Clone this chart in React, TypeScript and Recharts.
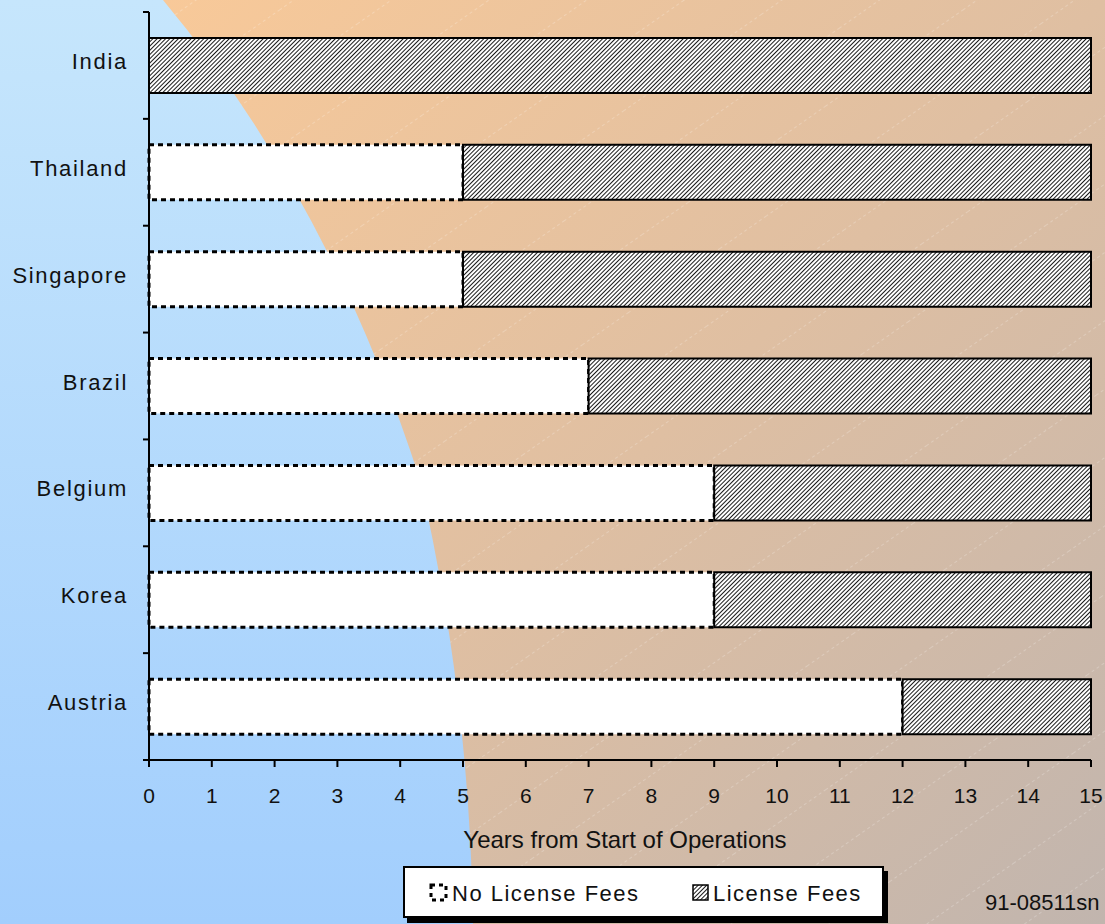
import React from 'react';
import { BarChart, Bar, XAxis, YAxis } from 'recharts';

const countries = ['India', 'Thailand', 'Singapore', 'Brazil', 'Belgium', 'Korea', 'Austria'];
const noLicenseYears = [0, 5, 5, 7, 9, 9, 12];
const licenseYears = [15, 10, 10, 8, 6, 6, 3];
const yearTicks = [0, 1, 2, 3, 4, 5, 6, 7, 8, 9, 10, 11, 12, 13, 14, 15];

const chartData = countries.map((name, i) => ({
  name,
  noFees: noLicenseYears[i],
  fees: licenseYears[i],
}));

const FONT = '"Liberation Sans", Arial, sans-serif';
const PLOT_TOP = 12;
const PLOT_BOTTOM = 760;
const AXIS_X = 149;
const BAND = (PLOT_BOTTOM - PLOT_TOP) / countries.length;

// Label at the band centre, tick marks at the band edges
function CountryTick(props: any) {
  const { x, y, payload, index } = props;
  const half = BAND / 2;
  return (
    <g>
      <text
        x={x}
        y={y - 4}
        textAnchor="end"
        dominantBaseline="central"
        fontFamily={FONT}
        fontSize={22}
        letterSpacing={1.7}
        fill="#111"
      >
        {payload.value}
      </text>
      <line x1={AXIS_X - 6} x2={AXIS_X} y1={y - half} y2={y - half} stroke="#000" strokeWidth={2} />
      {index === countries.length - 1 && (
        <line x1={AXIS_X - 6} x2={AXIS_X} y1={y + half} y2={y + half} stroke="#000" strokeWidth={2} />
      )}
    </g>
  );
}

function Background() {
  return (
    <svg width={1105} height={924} style={{ position: 'absolute', left: 0, top: 0 }}>
      <defs>
        <linearGradient id="bgBlue" x1="0" y1="0" x2="0" y2="1">
          <stop offset="0%" stopColor="#c6e6fc" />
          <stop offset="100%" stopColor="#a2cefd" />
        </linearGradient>
        <linearGradient id="bgTan" x1="0" y1="0" x2="1" y2="1">
          <stop offset="0%" stopColor="#f8c999" />
          <stop offset="50%" stopColor="#dfbfa2" />
          <stop offset="100%" stopColor="#c1b5ae" />
        </linearGradient>
        <pattern id="streaks" width={56} height={56} patternUnits="userSpaceOnUse" patternTransform="rotate(55)">
          <line x1={0} y1={0} x2={0} y2={56} stroke="#fff" strokeWidth={1} strokeDasharray="3 3" opacity={0.45} />
        </pattern>
      </defs>
      <rect x={0} y={0} width={1105} height={924} fill="url(#bgBlue)" />
      <path d="M163,0 Q330,200 420,480 Q470,700 473,924 L1105,924 L1105,0 Z" fill="url(#bgTan)" />
      <path d="M163,0 Q330,200 420,480 Q470,700 473,924 L1105,924 L1105,0 Z" fill="url(#streaks)" />
    </svg>
  );
}

function LegendBox() {
  return (
    <div
      style={{
        position: 'absolute',
        left: 403,
        top: 866,
        width: 477,
        height: 48,
        background: '#fff',
        border: '2px solid #000',
        boxShadow: '4px 5px 0 #000',
      }}
    >
      <svg width={477} height={48} style={{ position: 'absolute', left: 0, top: 0 }}>
        <defs>
          <pattern id="hatchLegend" width={3} height={3} patternUnits="userSpaceOnUse" patternTransform="rotate(45)">
            <rect width={3} height={3} fill="#fff" />
            <line x1={0} y1={0} x2={0} y2={3} stroke="#000" strokeWidth={1.8} />
          </pattern>
        </defs>
        <rect x={26} y={17} width={15} height={15} fill="#fff" stroke="#000" strokeWidth={3} strokeDasharray="4 4" />
        <text x={47} y={25} dominantBaseline="central" fontFamily={FONT} fontSize={22} letterSpacing={1.5} fill="#111">
          No License Fees
        </text>
        <rect x={288} y={17} width={15} height={15} fill="url(#hatchLegend)" stroke="#000" strokeWidth={1.5} />
        <text x={308} y={25} dominantBaseline="central" fontFamily={FONT} fontSize={22} letterSpacing={1.5} fill="#111">
          License Fees
        </text>
      </svg>
    </div>
  );
}

export default function App() {
  return (
    <div style={{ position: 'absolute', left: 0, top: 0, width: 1105, height: 924, overflow: 'hidden' }}>
      <Background />
      <div style={{ position: 'absolute', left: 0, top: 0 }}>
        <BarChart
          width={1105}
          height={924}
          data={chartData}
          layout="vertical"
          margin={{ top: PLOT_TOP, right: 14, left: 0, bottom: 64 }}
          barSize={55}
        >
          <defs>
            <pattern id="hatch" width={3} height={3} patternUnits="userSpaceOnUse" patternTransform="rotate(45)">
              <rect width={3} height={3} fill="#fff" />
              <line x1={0} y1={0} x2={0} y2={3} stroke="#000" strokeWidth={1.8} />
            </pattern>
          </defs>
          <XAxis
            type="number"
            domain={[0, 15]}
            ticks={yearTicks}
            interval={0}
            height={100}
            tickSize={7}
            tickMargin={21}
            axisLine={{ stroke: '#000', strokeWidth: 2 }}
            tickLine={{ stroke: '#000', strokeWidth: 2 }}
            tick={{ fill: '#111', fontSize: 21, fontFamily: FONT }}
            label={{
              value: 'Years from Start of Operations',
              position: 'insideBottom',
              offset: 12,
              fill: '#111',
              fontSize: 24,
              fontFamily: FONT,
              dx: 5,
            }}
          />
          <YAxis
            type="category"
            dataKey="name"
            width={AXIS_X}
            tickSize={6}
            tickMargin={15}
            tickLine={false}
            axisLine={{ stroke: '#000', strokeWidth: 2 }}
            tick={<CountryTick />}
            interval={0}
          />
          <Bar
            dataKey="noFees"
            stackId="years"
            fill="#fff"
            stroke="#000"
            strokeWidth={3}
            strokeDasharray="5 4"
            isAnimationActive={false}
          />
          <Bar
            dataKey="fees"
            stackId="years"
            fill="url(#hatch)"
            stroke="#000"
            strokeWidth={2}
            isAnimationActive={false}
          />
        </BarChart>
      </div>
      <LegendBox />
      <div
        style={{
          position: 'absolute',
          left: 985,
          top: 890,
          fontFamily: FONT,
          fontSize: 22,
          color: '#111',
        }}
      >
        91-08511sn
      </div>
    </div>
  );
}
